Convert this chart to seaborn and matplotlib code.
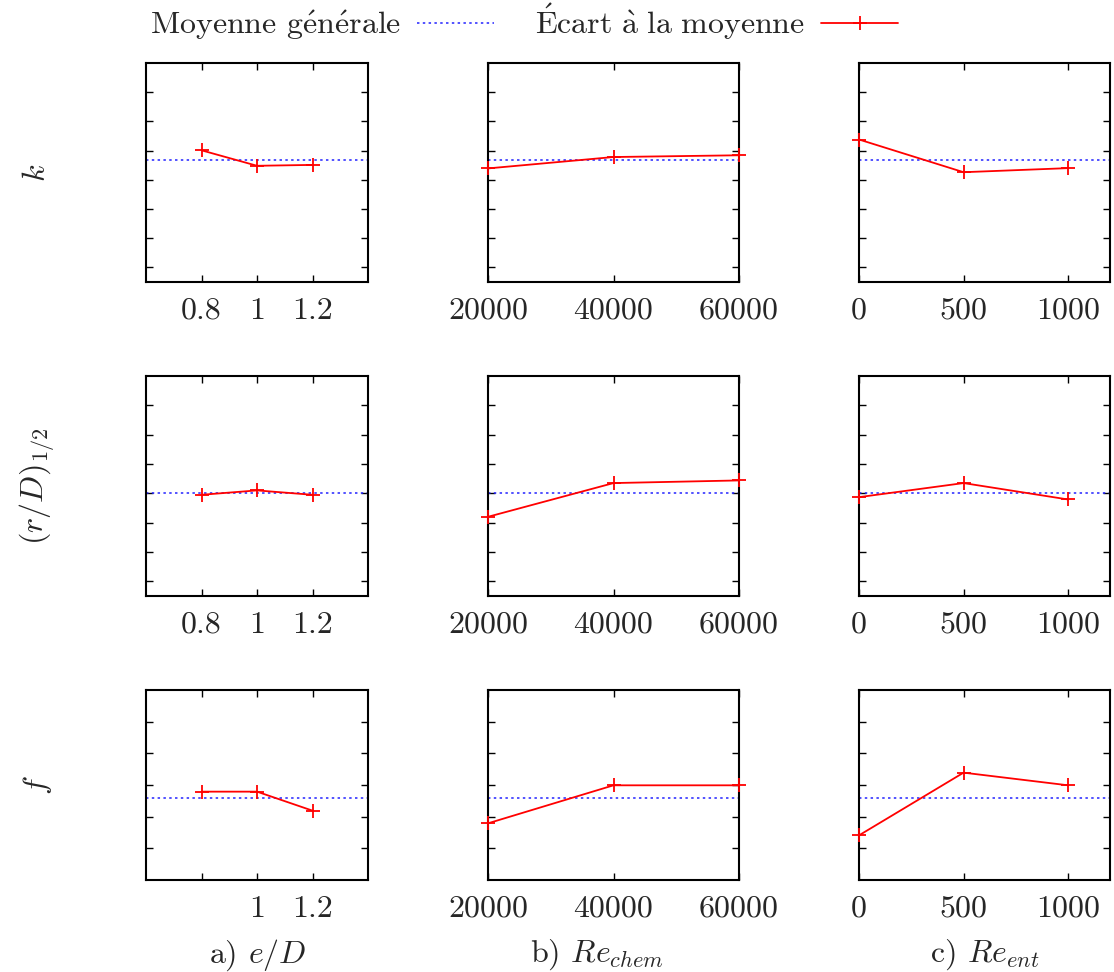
"""
Sensitivity of k, (r/D)_1/2 and f to e/D, Re_chem and Re_ent.
"""
import matplotlib
matplotlib.use("Agg")
import matplotlib.pyplot as plt
import seaborn as sns
from matplotlib.lines import Line2D

# x values for each factor
ed_values = [0.8, 1.0, 1.2]
rechem_values = [20000, 40000, 60000]
reent_values = [0, 500, 1000]

# general means (arbitrary units)
k_mean = 0.68
r_mean = 0.0
f_mean = -0.4

# deviation curves
k_ed = [1.01, 0.48, 0.51]
k_rechem = [0.39, 0.78, 0.84]
k_reent = [1.38, 0.26, 0.40]

r_ed = [-0.05, 0.10, -0.05]
r_rechem = [-0.80, 0.35, 0.44]
r_reent = [-0.13, 0.35, -0.21]

f_ed = [-0.21, -0.21, -0.81]
f_rechem = [-1.21, -0.01, -0.01]
f_reent = [-1.59, 0.39, -0.01]

row_labels = [r"$k$", r"$(r/D)_{1/2}$", r"$f$"]
col_labels = [r"a) $e/D$", r"b) $Re_{chem}$", r"c) $Re_{ent}$"]
legend_labels = [r"Moyenne $\mathrm{g\acute{e}n\acute{e}rale}$",
                 r"$\mathrm{\acute{E}cart\ \grave{a}\ la\ moyenne}$"]

sns.set_style("ticks")
plt.rcParams.update({
    "font.family": ["cmr10", "DejaVu Serif"],
    "mathtext.fontset": "cm",
    "axes.formatter.use_mathtext": True,
    "axes.linewidth": 1.5,
    "axes.edgecolor": "black",
})

FS = 23
MEAN_COLOR = "#2222ff"

W, H = 1114, 972
fig = plt.figure(figsize=(W / 100, H / 100), dpi=100)

# panel boxes in pixels: (left, width) per column, (top, height) per row
col_px = [(146, 222), (488, 251), (859, 251)]
row_px = [(63, 219), (376, 220), (690, 190)]

xs = [ed_values, rechem_values, reent_values]
xlims = [(0.6, 1.4), (20000, 60000), (0, 1200)]
xticklabels = [["0.8", "1", "1.2"], ["20000", "40000", "60000"], ["0", "500", "1000"]]
means = [k_mean, r_mean, f_mean]
curves = [[k_ed, k_rechem, k_reent],
          [r_ed, r_rechem, r_reent],
          [f_ed, f_rechem, f_reent]]
ylims = [(-3.5, 4), (-3.5, 4), (-3, 3)]
yticks = [range(-3, 4), range(-3, 4), range(-2, 3)]

for i, (top, h) in enumerate(row_px):
    for j, (left, w) in enumerate(col_px):
        ax = fig.add_axes([left / W, 1 - (top + h) / H, w / W, h / H])
        ax.axhline(means[i], color=MEAN_COLOR, lw=1.1, dashes=(1.6, 2.2))
        sns.lineplot(x=xs[j], y=curves[i][j], ax=ax, color="red", lw=1.3,
                     marker="+", markersize=10, markeredgewidth=1.3,
                     markeredgecolor="red", clip_on=False, zorder=5)
        ax.set_xlim(*xlims[j])
        ax.set_ylim(*ylims[i])
        ax.set_xticks(xs[j])
        labels = list(xticklabels[j])
        if i == 2 and j == 0:
            labels[0] = ""
        ax.set_xticklabels(labels)
        ax.set_yticks(list(yticks[i]))
        ax.set_yticklabels([])
        ax.tick_params(direction="in", top=True, right=True, length=5,
                       width=1, labelsize=FS, pad=11, color="black")
        for s in ax.spines.values():
            s.set_visible(True)

# row labels
for i, (top, h) in enumerate(row_px):
    fig.text(37 / W, 1 - (top + h / 2) / H, row_labels[i], rotation=90,
             ha="center", va="center", fontsize=FS)

# column labels
for j, cx in enumerate([258, 597, 985]):
    fig.text(cx / W, 1 - 955 / H, col_labels[j], ha="center", va="center",
             fontsize=FS)

handles = [Line2D([], [], color=MEAN_COLOR, lw=1.1, dashes=(1.6, 2.2)),
           Line2D([], [], color="red", lw=1.3, marker="+", markersize=10,
                  markeredgewidth=1.3)]
fig.legend(handles, legend_labels, loc="center", bbox_to_anchor=(524 / W, 1 - 22 / H),
           ncol=2, frameon=False, markerfirst=False, fontsize=FS,
           handlelength=2.4, handletextpad=0.5, columnspacing=1.3)

fig.savefig("out.png", dpi=100)
plt.close(fig)
